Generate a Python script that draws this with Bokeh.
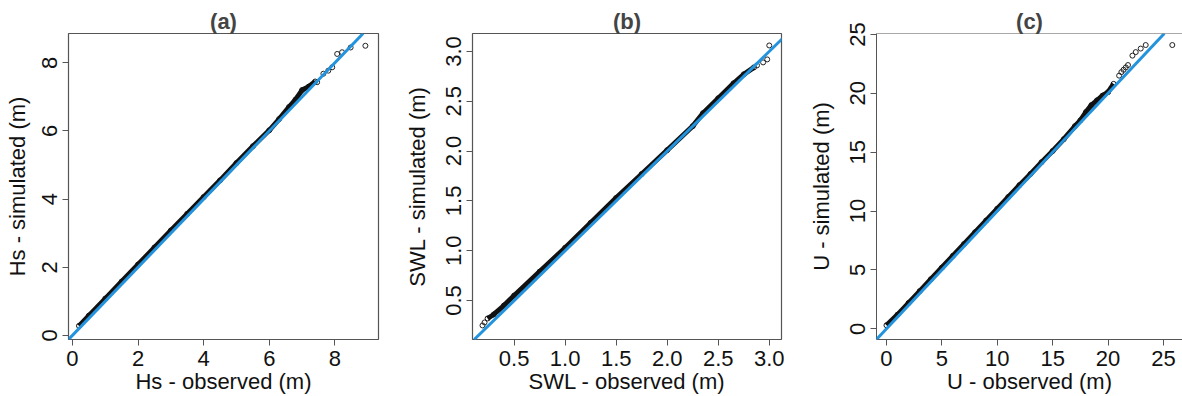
from bokeh.plotting import figure
from bokeh.layouts import row
from bokeh.models import Slope, Span, FixedTicker, NumeralTickFormatter, Range1d
from bokeh.embed import file_html
from bokeh.resources import INLINE

# ---- Panel (a): Hs ----
hs_obs_body = [0.2, 0.5, 1.0, 1.5, 2.0, 2.5, 3.0, 3.5, 4.0, 4.5, 5.0, 5.5, 6.0, 6.3, 6.6, 6.8, 7.0, 7.2, 7.4]
hs_sim_body = [0.28, 0.58, 1.08, 1.58, 2.08, 2.58, 3.08, 3.57, 4.06, 4.55, 5.06, 5.55, 6.02, 6.35, 6.7, 6.92, 7.2, 7.3, 7.45]
hs_obs_tail = [7.46, 7.65, 7.8, 7.92, 8.07, 8.22, 8.48, 8.93]
hs_sim_tail = [7.43, 7.68, 7.77, 7.87, 8.26, 8.31, 8.45, 8.5]
hs_ticks = [0, 2, 4, 6, 8]

# ---- Panel (b): SWL ----
swl_obs_body = [0.24, 0.3, 0.4, 0.5, 0.75, 1.0, 1.25, 1.5, 1.75, 2.0, 2.25, 2.35, 2.5, 2.65, 2.75, 2.85]
swl_sim_body = [0.32, 0.36, 0.45, 0.55, 0.79, 1.03, 1.28, 1.53, 1.77, 2.01, 2.25, 2.38, 2.53, 2.68, 2.77, 2.84]
swl_obs_tail = [0.19, 0.21, 2.88, 2.94, 2.98, 3.0]
swl_sim_tail = [0.25, 0.28, 2.86, 2.89, 2.92, 3.06]
swl_ticks = [0.5, 1.0, 1.5, 2.0, 2.5, 3.0]

# ---- Panel (c): U ----
u_obs_body = [0.0, 1, 2, 3, 4, 5, 6, 7, 8, 9, 10, 11, 12, 13, 14, 15, 16, 17, 17.5, 18, 18.5, 19, 19.5, 20, 20.5]
u_sim_body = [0.3, 1.2, 2.2, 3.2, 4.2, 5.2, 6.2, 7.2, 8.2, 9.2, 10.2, 11.2, 12.2, 13.15, 14.15, 15.1, 16.1, 17.2, 17.7, 18.4, 19.0, 19.4, 19.8, 20.1, 20.8]
u_obs_tail = [21.0, 21.2, 21.4, 21.6, 21.8, 22.2, 22.5, 22.95, 23.4, 25.8]
u_sim_tail = [21.5, 21.8, 22.0, 22.2, 22.4, 23.2, 23.5, 23.8, 24.1, 24.1]
u_ticks = [0, 5, 10, 15, 20, 25]

FONT = "Liberation Sans"
BLUE = "#2493dd"
FRAME = "#555555"


def panel(title, xlabel, ylabel, xr, yr, ticks, obs_b, sim_b, obs_t, sim_t,
          width, left, right, fmt=None, outline=True, ystand=14):
    p = figure(width=width, height=396, x_range=Range1d(*xr), y_range=Range1d(*yr),
               output_backend="svg", toolbar_location=None,
               min_border_left=left, min_border_right=right,
               min_border_top=33, min_border_bottom=57)
    p.title.text = title
    p.title.text_font = FONT
    p.title.text_font_size = "22px"
    p.title.text_font_style = "bold"
    p.title.align = "center"
    p.title.standoff = 0
    p.grid.visible = False
    p.background_fill_color = "white"
    p.border_fill_color = "white"
    if outline:
        p.outline_line_color = FRAME
        p.outline_line_width = 1.2
        p.outline_line_alpha = 1
    else:
        p.outline_line_color = None
    for ax in (p.xaxis[0], p.yaxis[0]):
        ax.ticker = FixedTicker(ticks=ticks)
        if fmt:
            ax.formatter = NumeralTickFormatter(format=fmt)
        ax.minor_tick_line_color = None
        ax.major_tick_in = 0
        ax.major_tick_out = 6
        ax.major_tick_line_color = FRAME
        ax.major_label_text_font = FONT
        ax.major_label_text_font_size = "22px"
        ax.major_label_text_color = "#111111"
        ax.axis_label_text_font = FONT
        ax.axis_label_text_font_size = "22px"
        ax.axis_label_text_font_style = "normal"
        ax.axis_label_text_color = "#111111"
        ax.axis_line_color = None if outline else FRAME
    p.xaxis.major_label_standoff = 5
    p.xaxis.axis_label_standoff = 0
    p.yaxis.major_label_standoff = 5
    p.yaxis.axis_label_standoff = ystand
    p.xaxis.axis_label = xlabel
    p.yaxis.axis_label = ylabel
    p.yaxis.major_label_orientation = "vertical"

    p.line(obs_b, sim_b, line_color="#111111", line_width=5)
    p.scatter(obs_b, sim_b, marker="circle", size=5, fill_color=None,
              line_color="#111111", line_width=1)
    p.scatter(obs_t, sim_t, marker="circle", size=5, fill_color=None,
              line_color="#222222", line_width=1)
    p.add_layout(Slope(gradient=1, y_intercept=0, line_color=BLUE, line_width=3))
    if not outline:
        p.add_layout(Span(location=yr[1], dimension="width", line_color=FRAME, line_width=1.2))
    return p


pa = panel("(a)", "Hs - observed (m)", "Hs - simulated (m)", (-0.12, 9.33), (-0.12, 8.86),
           hs_ticks, hs_obs_body, hs_sim_body, hs_obs_tail, hs_sim_tail, 398, 68, 20, ystand=10)
pb = panel("(b)", "SWL - observed (m)", "SWL - simulated (m)", (0.092, 3.12), (0.109, 3.18),
           swl_ticks, swl_obs_body, swl_sim_body, swl_obs_tail, swl_sim_tail, 403, 74, 20, fmt="0.0")
pc = panel("(c)", "U - observed (m)", "U - simulated (m)", (-0.9, 26.72), (-0.91, 25.08),
           u_ticks, u_obs_body, u_sim_body, u_obs_tail, u_sim_tail, 381, 75, 0, outline=False)

layout = row(pa, pb, pc)
open("out.html", "w").write(file_html(layout, INLINE))
